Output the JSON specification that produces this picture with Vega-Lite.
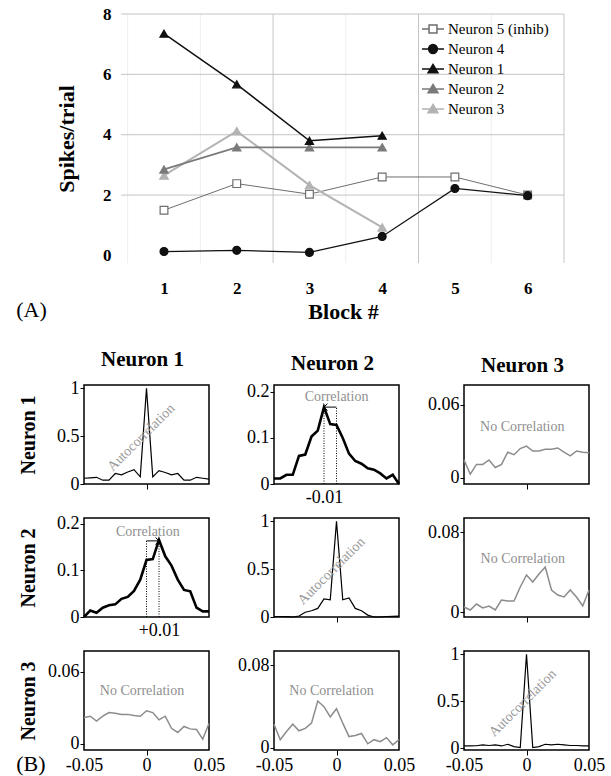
{
"$schema":"https://vega.github.io/schema/vega-lite/v6.json",
"padding":{"left":15,"top":5,"right":5,"bottom":3},
"config":{"view":{"stroke":null},"font":"Liberation Serif",
"axis":{"labelFont":"Liberation Serif","titleFont":"Liberation Serif","domain":false,"grid":false,"tickSize":4,"tickColor":"black","tickWidth":1,"labelFontSize":18,"labelPadding":1,"labelColor":"black","titleColor":"black","titleFontSize":20,"titleFontWeight":"bold","labelFlush":false,"labelOverlap":false},
"legend":{"labelFont":"Liberation Serif"},
"text":{"font":"Liberation Serif"},
"title":{"font":"Liberation Serif","fontSize":21,"fontWeight":"bold","color":"black","offset":9,"anchor":"middle","frame":"group","dx":-4}},
"datasets":{
"top":[
{"s":"Neuron 5 (inhib)","block":1,"value":1.5},{"s":"Neuron 5 (inhib)","block":2,"value":2.38},{"s":"Neuron 5 (inhib)","block":3,"value":2.03},{"s":"Neuron 5 (inhib)","block":4,"value":2.6},{"s":"Neuron 5 (inhib)","block":5,"value":2.6},{"s":"Neuron 5 (inhib)","block":6,"value":2.0},
{"s":"Neuron 4","block":1,"value":0.13},{"s":"Neuron 4","block":2,"value":0.17},{"s":"Neuron 4","block":3,"value":0.1},{"s":"Neuron 4","block":4,"value":0.63},{"s":"Neuron 4","block":5,"value":2.22},{"s":"Neuron 4","block":6,"value":1.98},
{"s":"Neuron 3","block":1,"value":2.65},{"s":"Neuron 3","block":2,"value":4.12},{"s":"Neuron 3","block":3,"value":2.33},{"s":"Neuron 3","block":4,"value":0.93},
{"s":"Neuron 2","block":1,"value":2.85},{"s":"Neuron 2","block":2,"value":3.58},{"s":"Neuron 2","block":3,"value":3.58},{"s":"Neuron 2","block":4,"value":3.58},
{"s":"Neuron 1","block":1,"value":7.35},{"s":"Neuron 1","block":2,"value":5.67},{"s":"Neuron 1","block":3,"value":3.8},{"s":"Neuron 1","block":4,"value":3.97}
],
"cc":[
{"p":"11","lag":-0.05,"v":0.06},{"p":"11","lag":-0.045,"v":0.065},{"p":"11","lag":-0.04,"v":0.07},{"p":"11","lag":-0.035,"v":0.04},{"p":"11","lag":-0.03,"v":0.04},{"p":"11","lag":-0.025,"v":0.11},{"p":"11","lag":-0.02,"v":0.095},{"p":"11","lag":-0.015,"v":0.125},{"p":"11","lag":-0.01,"v":0.15},{"p":"11","lag":-0.005,"v":0.075},{"p":"11","lag":0,"v":1.0},{"p":"11","lag":0.005,"v":0.075},{"p":"11","lag":0.01,"v":0.14},{"p":"11","lag":0.015,"v":0.12},{"p":"11","lag":0.02,"v":0.095},{"p":"11","lag":0.025,"v":0.11},{"p":"11","lag":0.03,"v":0.04},{"p":"11","lag":0.035,"v":0.04},{"p":"11","lag":0.04,"v":0.07},{"p":"11","lag":0.045,"v":0.06},{"p":"11","lag":0.05,"v":0.05},
{"p":"12","lag":-0.05,"v":0.012},{"p":"12","lag":-0.045,"v":0.012},{"p":"12","lag":-0.04,"v":0.02},{"p":"12","lag":-0.035,"v":0.02},{"p":"12","lag":-0.03,"v":0.061},{"p":"12","lag":-0.025,"v":0.064},{"p":"12","lag":-0.02,"v":0.103},{"p":"12","lag":-0.015,"v":0.116},{"p":"12","lag":-0.01,"v":0.167},{"p":"12","lag":-0.005,"v":0.13},{"p":"12","lag":0,"v":0.128},{"p":"12","lag":0.005,"v":0.1},{"p":"12","lag":0.01,"v":0.066},{"p":"12","lag":0.015,"v":0.05},{"p":"12","lag":0.02,"v":0.044},{"p":"12","lag":0.025,"v":0.034},{"p":"12","lag":0.03,"v":0.031},{"p":"12","lag":0.035,"v":0.023},{"p":"12","lag":0.04,"v":0.012},{"p":"12","lag":0.045,"v":0.02},{"p":"12","lag":0.05,"v":0},
{"p":"13","lag":-0.05,"v":0.0147},{"p":"13","lag":-0.045,"v":0.003},{"p":"13","lag":-0.04,"v":0.011},{"p":"13","lag":-0.035,"v":0.011},{"p":"13","lag":-0.03,"v":0.0147},{"p":"13","lag":-0.025,"v":0.0085},{"p":"13","lag":-0.02,"v":0.011},{"p":"13","lag":-0.015,"v":0.021},{"p":"13","lag":-0.01,"v":0.019},{"p":"13","lag":-0.005,"v":0.024},{"p":"13","lag":0,"v":0.026},{"p":"13","lag":0.005,"v":0.022},{"p":"13","lag":0.01,"v":0.022},{"p":"13","lag":0.015,"v":0.0235},{"p":"13","lag":0.02,"v":0.0235},{"p":"13","lag":0.025,"v":0.0245},{"p":"13","lag":0.03,"v":0.021},{"p":"13","lag":0.035,"v":0.018},{"p":"13","lag":0.04,"v":0.022},{"p":"13","lag":0.045,"v":0.021},{"p":"13","lag":0.05,"v":0.0205},
{"p":"21","lag":-0.05,"v":0},{"p":"21","lag":-0.045,"v":0.014},{"p":"21","lag":-0.04,"v":0.009},{"p":"21","lag":-0.035,"v":0.02},{"p":"21","lag":-0.03,"v":0.025},{"p":"21","lag":-0.025,"v":0.027},{"p":"21","lag":-0.02,"v":0.039},{"p":"21","lag":-0.015,"v":0.043},{"p":"21","lag":-0.01,"v":0.056},{"p":"21","lag":-0.005,"v":0.08},{"p":"21","lag":0,"v":0.122},{"p":"21","lag":0.005,"v":0.124},{"p":"21","lag":0.01,"v":0.165},{"p":"21","lag":0.015,"v":0.13},{"p":"21","lag":0.02,"v":0.11},{"p":"21","lag":0.025,"v":0.08},{"p":"21","lag":0.03,"v":0.058},{"p":"21","lag":0.035,"v":0.055},{"p":"21","lag":0.04,"v":0.02},{"p":"21","lag":0.045,"v":0.012},{"p":"21","lag":0.05,"v":0.012},
{"p":"22","lag":-0.05,"v":0.005},{"p":"22","lag":-0.045,"v":0.005},{"p":"22","lag":-0.04,"v":0.003},{"p":"22","lag":-0.035,"v":0},{"p":"22","lag":-0.03,"v":0.01},{"p":"22","lag":-0.025,"v":0.05},{"p":"22","lag":-0.02,"v":0.065},{"p":"22","lag":-0.015,"v":0.09},{"p":"22","lag":-0.01,"v":0.19},{"p":"22","lag":-0.005,"v":0.18},{"p":"22","lag":0,"v":1.0},{"p":"22","lag":0.005,"v":0.18},{"p":"22","lag":0.01,"v":0.2},{"p":"22","lag":0.015,"v":0.09},{"p":"22","lag":0.02,"v":0.065},{"p":"22","lag":0.025,"v":0.02},{"p":"22","lag":0.03,"v":0},{"p":"22","lag":0.035,"v":0},{"p":"22","lag":0.04,"v":0.005},{"p":"22","lag":0.045,"v":0.007},{"p":"22","lag":0.05,"v":0.01},
{"p":"23","lag":-0.05,"v":0.005},{"p":"23","lag":-0.045,"v":0.002},{"p":"23","lag":-0.04,"v":0.008},{"p":"23","lag":-0.035,"v":0.004},{"p":"23","lag":-0.03,"v":0.006},{"p":"23","lag":-0.025,"v":0.002},{"p":"23","lag":-0.02,"v":0.012},{"p":"23","lag":-0.015,"v":0.011},{"p":"23","lag":-0.01,"v":0.011},{"p":"23","lag":-0.005,"v":0.025},{"p":"23","lag":0,"v":0.037},{"p":"23","lag":0.005,"v":0.03},{"p":"23","lag":0.01,"v":0.038},{"p":"23","lag":0.015,"v":0.045},{"p":"23","lag":0.02,"v":0.022},{"p":"23","lag":0.025,"v":0.017},{"p":"23","lag":0.03,"v":0.015},{"p":"23","lag":0.035,"v":0.022},{"p":"23","lag":0.04,"v":0.015},{"p":"23","lag":0.045,"v":0.006},{"p":"23","lag":0.05,"v":0.022},
{"p":"31","lag":-0.05,"v":0.022},{"p":"31","lag":-0.045,"v":0.023},{"p":"31","lag":-0.04,"v":0.019},{"p":"31","lag":-0.035,"v":0.023},{"p":"31","lag":-0.03,"v":0.026},{"p":"31","lag":-0.025,"v":0.0255},{"p":"31","lag":-0.02,"v":0.0245},{"p":"31","lag":-0.015,"v":0.0245},{"p":"31","lag":-0.01,"v":0.0235},{"p":"31","lag":-0.005,"v":0.023},{"p":"31","lag":0,"v":0.0275},{"p":"31","lag":0.005,"v":0.026},{"p":"31","lag":0.01,"v":0.02},{"p":"31","lag":0.015,"v":0.023},{"p":"31","lag":0.02,"v":0.013},{"p":"31","lag":0.025,"v":0.0095},{"p":"31","lag":0.03,"v":0.0145},{"p":"31","lag":0.035,"v":0.0125},{"p":"31","lag":0.04,"v":0.012},{"p":"31","lag":0.045,"v":0.004},{"p":"31","lag":0.05,"v":0.017},
{"p":"32","lag":-0.05,"v":0.023},{"p":"32","lag":-0.045,"v":0.008},{"p":"32","lag":-0.04,"v":0.016},{"p":"32","lag":-0.035,"v":0.023},{"p":"32","lag":-0.03,"v":0.0166},{"p":"32","lag":-0.025,"v":0.019},{"p":"32","lag":-0.02,"v":0.024},{"p":"32","lag":-0.015,"v":0.0455},{"p":"32","lag":-0.01,"v":0.04},{"p":"32","lag":-0.005,"v":0.03},{"p":"32","lag":0,"v":0.038},{"p":"32","lag":0.005,"v":0.024},{"p":"32","lag":0.01,"v":0.011},{"p":"32","lag":0.015,"v":0.012},{"p":"32","lag":0.02,"v":0.014},{"p":"32","lag":0.025,"v":0.004},{"p":"32","lag":0.03,"v":0.008},{"p":"32","lag":0.035,"v":0.006},{"p":"32","lag":0.04,"v":0.01},{"p":"32","lag":0.045,"v":0.003},{"p":"32","lag":0.05,"v":0.008},
{"p":"33","lag":-0.05,"v":0.025},{"p":"33","lag":-0.045,"v":0.025},{"p":"33","lag":-0.04,"v":0.027},{"p":"33","lag":-0.035,"v":0.036},{"p":"33","lag":-0.03,"v":0.03},{"p":"33","lag":-0.025,"v":0.036},{"p":"33","lag":-0.02,"v":0.025},{"p":"33","lag":-0.015,"v":0.043},{"p":"33","lag":-0.01,"v":0.018},{"p":"33","lag":-0.005,"v":0.007},{"p":"33","lag":0,"v":1.0},{"p":"33","lag":0.005,"v":0.007},{"p":"33","lag":0.01,"v":0.018},{"p":"33","lag":0.015,"v":0.043},{"p":"33","lag":0.02,"v":0.036},{"p":"33","lag":0.025,"v":0.043},{"p":"33","lag":0.03,"v":0.036},{"p":"33","lag":0.035,"v":0.03},{"p":"33","lag":0.04,"v":0.03},{"p":"33","lag":0.045,"v":0.025},{"p":"33","lag":0.05,"v":0.025}
]},
"spacing":25,
"vconcat":[
{"width":480,"height":249,"view":{"stroke":null},
"resolve":{"scale":{"shape":"independent","stroke":"independent","fill":"independent"}},
"layer":[
{"data":{"values":[{"block":0.5},{"block":1.5},{"block":3.5},{"block":5.5}]},"mark":{"type":"rule","color":"#eeeeee","strokeWidth":1},"encoding":{"x":{"field":"block","type":"quantitative"}}},
{"data":{"values":[{"block":2.5},{"block":4.5},{"block":6.5}]},"mark":{"type":"rule","color":"#c4c4c4","strokeWidth":1},"encoding":{"x":{"field":"block","type":"quantitative"}}},
{"data":{"values":[{"value":2},{"value":4},{"value":6},{"value":8}]},"mark":{"type":"rule","color":"#c4c4c4","strokeWidth":1},"encoding":{"y":{"field":"value","type":"quantitative"},"x":{"datum":0.41,"type":"quantitative"},"x2":{"datum":6.5}}},
{"data":{"name":"top"},"mark":{"type":"line"},
"encoding":{
"x":{"field":"block","type":"quantitative","scale":{"domain":[-0.1,6.5],"nice":false,"zero":false},"axis":{"values":[1,2,3,4,5,6],"format":"d","title":"Block #","ticks":false,"labelFontSize":17,"labelFontWeight":"bold","labelPadding":17,"titleFontSize":22,"titleFontWeight":"bold","titleX":259,"titleY":48.5,"titleBaseline":"middle","titleAlign":"center"}},
"y":{"field":"value","type":"quantitative","scale":{"domain":[-0.25,8],"nice":false,"zero":false},"axis":{"values":[0,2,4,6,8],"format":"d","title":"Spikes/trial","ticks":false,"offset":-31,"labelFontSize":17,"labelFontWeight":"bold","labelPadding":4,"titleFontSize":22,"titleFontWeight":"bold","titlePadding":24}},
"stroke":{"field":"s","type":"nominal","scale":{"domain":["Neuron 5 (inhib)","Neuron 4","Neuron 1","Neuron 2","Neuron 3"],"range":["#6e6e6e","#111111","#111111","#7a7a7a","#b3b3b3"]},"legend":null},
"strokeWidth":{"field":"s","type":"nominal","scale":{"domain":["Neuron 5 (inhib)","Neuron 4","Neuron 1","Neuron 2","Neuron 3"],"range":[1,2,1.5,2,2]},"legend":null}}},
{"data":{"name":"top"},"mark":{"type":"point","filled":true,"opacity":1,"strokeWidth":1.2},
"encoding":{
"x":{"field":"block","type":"quantitative"},
"y":{"field":"value","type":"quantitative"},
"stroke":{"field":"s","type":"nominal","scale":{"domain":["Neuron 5 (inhib)","Neuron 4","Neuron 1","Neuron 2","Neuron 3"],"range":["#6e6e6e","#111111","#111111","#7a7a7a","#b3b3b3"]},"legend":null},
"fill":{"field":"s","type":"nominal","scale":{"domain":["Neuron 5 (inhib)","Neuron 4","Neuron 1","Neuron 2","Neuron 3"],"range":["#ffffff","#111111","#111111","#7a7a7a","#b3b3b3"]},"legend":null},
"shape":{"field":"s","type":"nominal","scale":{"domain":["Neuron 5 (inhib)","Neuron 4","Neuron 1","Neuron 2","Neuron 3"],"range":["square","circle","triangle-up","triangle-up","triangle-up"]},"legend":null},
"size":{"field":"s","type":"nominal","scale":{"domain":["Neuron 5 (inhib)","Neuron 4","Neuron 1","Neuron 2","Neuron 3"],"range":[60,72,90,90,90]},"legend":null}}},
{"data":{"name":"top"},"mark":{"type":"point","filled":true,"opacity":0,"strokeWidth":1.5},
"encoding":{
"x":{"field":"block","type":"quantitative"},
"y":{"field":"value","type":"quantitative"},
"shape":{"field":"s","type":"nominal","scale":{"domain":["Neuron 5 (inhib)","Neuron 4","Neuron 1","Neuron 2","Neuron 3"],"range":["M-1,0H-0.36M0.36,0H1M-0.36,-0.36H0.36V0.36H-0.36Z","M-1,0H1M-0.4,0A0.4,0.4,0,1,1,0.4,0A0.4,0.4,0,1,1,-0.4,0Z","M-1,0H1M0,-0.42L0.45,0.34L-0.45,0.34Z","M-1,0H1M0,-0.42L0.45,0.34L-0.45,0.34Z","M-1,0H1M0,-0.42L0.45,0.34L-0.45,0.34Z"]},
"legend":{"title":null,"orient":"none","legendX":337,"legendY":3,"padding":0,"labelFont":"Liberation Serif","labelFontSize":15,"labelColor":"black","symbolSize":484,"symbolStrokeWidth":1.5,"symbolOpacity":1,"labelOffset":3,"rowPadding":-4.3,"labelLimit":300}},
"stroke":{"field":"s","type":"nominal","scale":{"domain":["Neuron 5 (inhib)","Neuron 4","Neuron 1","Neuron 2","Neuron 3"],"range":["#6e6e6e","#111111","#111111","#7a7a7a","#b3b3b3"]}},
"fill":{"field":"s","type":"nominal","scale":{"domain":["Neuron 5 (inhib)","Neuron 4","Neuron 1","Neuron 2","Neuron 3"],"range":["#ffffff","#111111","#111111","#7a7a7a","#b3b3b3"]}}}},
{"data":{"values":[{"block":-1.031,"value":-1.82,"t":"(A)"}]},"mark":{"type":"text","align":"left","baseline":"middle","fontSize":22,"color":"black"},"encoding":{"x":{"field":"block","type":"quantitative"},"y":{"field":"value","type":"quantitative"},"text":{"field":"t"}}}
]},
{"concat":[
{"width":125,"height":99,"view":{"stroke":"black","strokeWidth":1.5},"title":{"text":"Neuron 1"},
"layer":[
{"data":{"name":"cc"},"transform":[{"filter":"datum.p == '11'"}],"mark":{"type":"line","color":"black","strokeWidth":1.2},
"encoding":{"x":{"field":"lag","type":"quantitative","scale":{"domain":[-0.05,0.05],"nice":false,"zero":false},"axis":{"values":[0],"labels":false,"title":null,"tickSize":5}},
"y":{"field":"v","type":"quantitative","scale":{"domain":[0,1.035],"nice":false,"zero":false},"axis":{"values":[0,0.5,1],"format":"~g","title":"Neuron 1","titlePadding":18}}}},
{"data":{"values":[{"lag":-0.0042,"v":0.485,"t":"Autocorrelation"}]},"mark":{"type":"text","angle":315,"fontSize":14,"color":"#999999"},"encoding":{"x":{"field":"lag","type":"quantitative"},"y":{"field":"v","type":"quantitative"},"text":{"field":"t"}}}
]},
{"width":125,"height":99,"view":{"stroke":"black","strokeWidth":1.5},"title":{"text":"Neuron 2"},
"layer":[
{"data":{"values":[{"lag":-0.01,"v":0,"v2":0.167},{"lag":0,"v":0,"v2":0.168}]},"mark":{"type":"rule","color":"black","strokeWidth":1,"strokeDash":[1,1.5]},"encoding":{"x":{"field":"lag","type":"quantitative"},"y":{"field":"v","type":"quantitative"},"y2":{"field":"v2"}}},
{"data":{"name":"cc"},"transform":[{"filter":"datum.p == '12'"}],"mark":{"type":"line","color":"black","strokeWidth":2.6},
"encoding":{"x":{"field":"lag","type":"quantitative","scale":{"domain":[-0.05,0.05],"nice":false,"zero":false},"axis":{"values":[-0.01],"ticks":false,"labelExpr":"'-0.01'","labelPadding":4,"title":null}},
"y":{"field":"v","type":"quantitative","scale":{"domain":[0,0.215],"nice":false,"zero":false},"axis":{"values":[0,0.1,0.2],"format":"~g","title":null}}}},
{"data":{"values":[{"lag":-0.01,"lag2":0,"v":0.167}]},"mark":{"type":"rule","color":"black","strokeWidth":1},"encoding":{"x":{"field":"lag","type":"quantitative"},"x2":{"field":"lag2"},"y":{"field":"v","type":"quantitative"}}},
{"data":{"values":[{"lag":-0.01,"v":0.167}]},"mark":{"type":"point","shape":"M1,-1L0,0L1,1","filled":false,"stroke":"black","strokeWidth":1,"size":50,"opacity":1},"encoding":{"x":{"field":"lag","type":"quantitative"},"y":{"field":"v","type":"quantitative"}}},
{"data":{"values":[{"lag":0.0,"v":0.19,"t":"Correlation"}]},"mark":{"type":"text","fontSize":14,"color":"#8f8f8f","baseline":"middle"},"encoding":{"x":{"field":"lag","type":"quantitative"},"y":{"field":"v","type":"quantitative"},"text":{"field":"t"}}}
]},
{"width":125,"height":99,"view":{"stroke":"black","strokeWidth":1.5},"title":{"text":"Neuron 3"},
"layer":[
{"data":{"name":"cc"},"transform":[{"filter":"datum.p == '13'"}],"mark":{"type":"line","color":"#8c8c8c","strokeWidth":1.5},
"encoding":{"x":{"field":"lag","type":"quantitative","scale":{"domain":[-0.05,0.05],"nice":false,"zero":false},"axis":{"values":[0],"labels":false,"title":null,"tickSize":5}},
"y":{"field":"v","type":"quantitative","scale":{"domain":[-0.005,0.076],"nice":false,"zero":false},"axis":{"values":[0,0.06],"format":"~g","title":null}}}},
{"data":{"values":[{"lag":-0.0034,"v":0.042,"t":"No Correlation"}]},"mark":{"type":"text","fontSize":14,"color":"#8f8f8f","baseline":"middle"},"encoding":{"x":{"field":"lag","type":"quantitative"},"y":{"field":"v","type":"quantitative"},"text":{"field":"t"}}}
]},
{"width":125,"height":99,"view":{"stroke":"black","strokeWidth":1.5},
"layer":[
{"data":{"values":[{"lag":0,"v":0,"v2":0.163},{"lag":0.01,"v":0,"v2":0.165}]},"mark":{"type":"rule","color":"black","strokeWidth":1,"strokeDash":[1,1.5]},"encoding":{"x":{"field":"lag","type":"quantitative"},"y":{"field":"v","type":"quantitative"},"y2":{"field":"v2"}}},
{"data":{"name":"cc"},"transform":[{"filter":"datum.p == '21'"}],"mark":{"type":"line","color":"black","strokeWidth":2.6},
"encoding":{"x":{"field":"lag","type":"quantitative","scale":{"domain":[-0.05,0.05],"nice":false,"zero":false},"axis":{"values":[0.01],"ticks":false,"labelExpr":"'+0.01'","labelPadding":4,"title":null}},
"y":{"field":"v","type":"quantitative","scale":{"domain":[0,0.212],"nice":false,"zero":false},"axis":{"values":[0,0.1,0.2],"format":"~g","title":"Neuron 2","titlePadding":18}}}},
{"data":{"values":[{"lag":0,"lag2":0.01,"v":0.163}]},"mark":{"type":"rule","color":"black","strokeWidth":1},"encoding":{"x":{"field":"lag","type":"quantitative"},"x2":{"field":"lag2"},"y":{"field":"v","type":"quantitative"}}},
{"data":{"values":[{"lag":0.01,"v":0.163}]},"mark":{"type":"point","shape":"M-1,-1L0,0L-1,1","filled":false,"stroke":"black","strokeWidth":1,"size":50,"opacity":1},"encoding":{"x":{"field":"lag","type":"quantitative"},"y":{"field":"v","type":"quantitative"}}},
{"data":{"values":[{"lag":0.001,"v":0.182,"t":"Correlation"}]},"mark":{"type":"text","fontSize":14,"color":"#8f8f8f","baseline":"middle"},"encoding":{"x":{"field":"lag","type":"quantitative"},"y":{"field":"v","type":"quantitative"},"text":{"field":"t"}}}
]},
{"width":125,"height":99,"view":{"stroke":"black","strokeWidth":1.5},
"layer":[
{"data":{"name":"cc"},"transform":[{"filter":"datum.p == '22'"}],"mark":{"type":"line","color":"black","strokeWidth":1.2},
"encoding":{"x":{"field":"lag","type":"quantitative","scale":{"domain":[-0.05,0.05],"nice":false,"zero":false},"axis":{"values":[0],"labels":false,"title":null,"tickSize":5}},
"y":{"field":"v","type":"quantitative","scale":{"domain":[0,1.035],"nice":false,"zero":false},"axis":{"values":[0,0.5,1],"format":"~g","title":null}}}},
{"data":{"values":[{"lag":-0.004,"v":0.48,"t":"Autocorrelation"}]},"mark":{"type":"text","angle":315,"fontSize":14,"color":"#999999"},"encoding":{"x":{"field":"lag","type":"quantitative"},"y":{"field":"v","type":"quantitative"},"text":{"field":"t"}}}
]},
{"width":125,"height":99,"view":{"stroke":"black","strokeWidth":1.5},
"layer":[
{"data":{"name":"cc"},"transform":[{"filter":"datum.p == '23'"}],"mark":{"type":"line","color":"#8c8c8c","strokeWidth":1.5},
"encoding":{"x":{"field":"lag","type":"quantitative","scale":{"domain":[-0.05,0.05],"nice":false,"zero":false},"axis":{"values":[0],"labels":false,"title":null,"tickSize":5}},
"y":{"field":"v","type":"quantitative","scale":{"domain":[-0.005,0.094],"nice":false,"zero":false},"axis":{"values":[0,0.08],"format":"~g","title":null}}}},
{"data":{"values":[{"lag":-0.003,"v":0.0527,"t":"No Correlation"}]},"mark":{"type":"text","fontSize":14,"color":"#8f8f8f","baseline":"middle"},"encoding":{"x":{"field":"lag","type":"quantitative"},"y":{"field":"v","type":"quantitative"},"text":{"field":"t"}}}
]},
{"width":125,"height":99,"view":{"stroke":"black","strokeWidth":1.5},
"layer":[
{"data":{"name":"cc"},"transform":[{"filter":"datum.p == '31'"}],"mark":{"type":"line","color":"#8c8c8c","strokeWidth":1.5},
"encoding":{"x":{"field":"lag","type":"quantitative","scale":{"domain":[-0.05,0.05],"nice":false,"zero":false},"axis":{"values":[-0.05,0,0.05],"labelExpr":"datum.value == 0 ? '0' : (datum.value < 0 ? '-0.05' : '0.05')","tickSize":5,"labelPadding":1,"tickOpacity":{"condition":{"test":"datum.value != 0","value":0},"value":1},"title":null}},
"y":{"field":"v","type":"quantitative","scale":{"domain":[-0.005,0.077],"nice":false,"zero":false},"axis":{"values":[0,0.06],"format":"~g","title":"Neuron 3","titlePadding":9}}}},
{"data":{"values":[{"lag":-0.0036,"v":0.0438,"t":"No Correlation"}]},"mark":{"type":"text","fontSize":14,"color":"#8f8f8f","baseline":"middle"},"encoding":{"x":{"field":"lag","type":"quantitative"},"y":{"field":"v","type":"quantitative"},"text":{"field":"t"}}},
{"data":{"values":[{"lag":-0.1042,"v":-0.0165,"t":"(B)"}]},"mark":{"type":"text","fontSize":22,"color":"black","align":"left","baseline":"middle"},"encoding":{"x":{"field":"lag","type":"quantitative"},"y":{"field":"v","type":"quantitative"},"text":{"field":"t"}}}
]},
{"width":125,"height":99,"view":{"stroke":"black","strokeWidth":1.5},
"layer":[
{"data":{"name":"cc"},"transform":[{"filter":"datum.p == '32'"}],"mark":{"type":"line","color":"#8c8c8c","strokeWidth":1.5},
"encoding":{"x":{"field":"lag","type":"quantitative","scale":{"domain":[-0.05,0.05],"nice":false,"zero":false},"axis":{"values":[-0.05,0,0.05],"labelExpr":"datum.value == 0 ? '0' : (datum.value < 0 ? '-0.05' : '0.05')","tickSize":5,"labelPadding":1,"tickOpacity":{"condition":{"test":"datum.value != 0","value":0},"value":1},"title":null}},
"y":{"field":"v","type":"quantitative","scale":{"domain":[-0.002,0.094],"nice":false,"zero":false},"axis":{"values":[0,0.08],"format":"~g","title":null}}}},
{"data":{"values":[{"lag":-0.004,"v":0.055,"t":"No Correlation"}]},"mark":{"type":"text","fontSize":14,"color":"#8f8f8f","baseline":"middle"},"encoding":{"x":{"field":"lag","type":"quantitative"},"y":{"field":"v","type":"quantitative"},"text":{"field":"t"}}}
]},
{"width":125,"height":99,"view":{"stroke":"black","strokeWidth":1.5},
"layer":[
{"data":{"name":"cc"},"transform":[{"filter":"datum.p == '33'"}],"mark":{"type":"line","color":"black","strokeWidth":1.2},
"encoding":{"x":{"field":"lag","type":"quantitative","scale":{"domain":[-0.05,0.05],"nice":false,"zero":false},"axis":{"values":[-0.05,0,0.05],"labelExpr":"datum.value == 0 ? '0' : (datum.value < 0 ? '-0.05' : '0.05')","tickSize":5,"labelPadding":1,"tickOpacity":{"condition":{"test":"datum.value != 0","value":0},"value":1},"title":null}},
"y":{"field":"v","type":"quantitative","scale":{"domain":[-0.018,1.035],"nice":false,"zero":false},"axis":{"values":[0,0.5,1],"format":"~g","title":null}}}},
{"data":{"values":[{"lag":-0.003,"v":0.48,"t":"Autocorrelation"}]},"mark":{"type":"text","angle":315,"fontSize":14,"color":"#999999"},"encoding":{"x":{"field":"lag","type":"quantitative"},"y":{"field":"v","type":"quantitative"},"text":{"field":"t"}}}
]}
],"columns":3,"bounds":"flush","spacing":{"row":34,"column":65}}
]
}
